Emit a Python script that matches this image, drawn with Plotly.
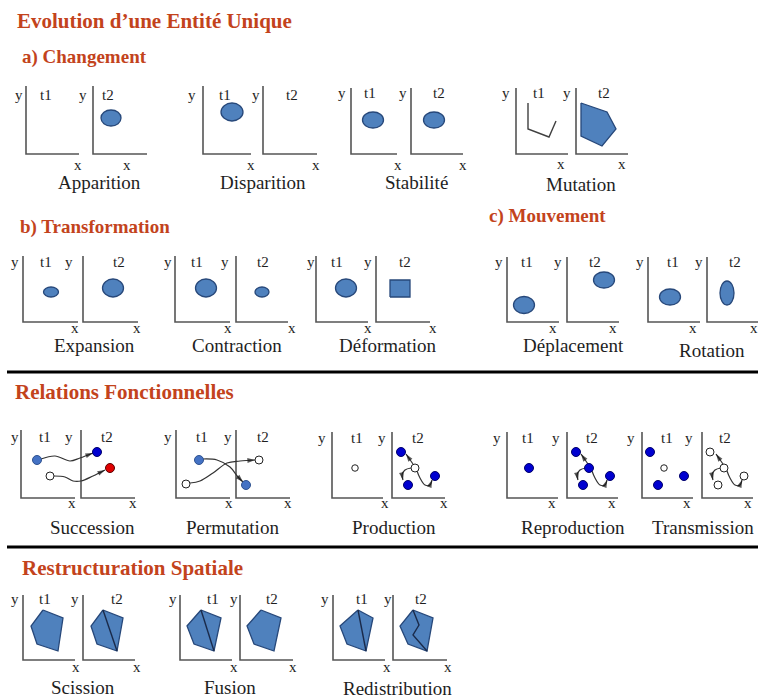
import plotly.graph_objects as go

FIG_W, FIG_H = 758, 699
SERIF = "Liberation Serif, Times New Roman, serif"
HEAD_COLOR = "#C3431C"
FILL = "#4F81BD"
EDGE = "#27487A"
AXIS_COLOR = "#555555"
TXT = "#1E1E1E"

# ---------------- headings ----------------
HEADINGS = ["Evolution d’une Entité Unique", "a) Changement", "b) Transformation",
            "c) Mouvement", "Relations Fonctionnelles", "Restructuration Spatiale"]
HEAD_X = [15, 20, 18, 487, 13, 20]
HEAD_Y = [21, 57, 227, 216, 392, 568]
HEAD_SIZE = [21, 19, 19, 19, 21, 21]
SEP_Y = [372, 547]

# ---------------- diagrams (pairs of t1 / t2 panels) ----------------
NAMES = ["Apparition", "Disparition", "Stabilité", "Mutation",
         "Expansion", "Contraction", "Déformation", "Déplacement", "Rotation",
         "Succession", "Permutation", "Production", "Reproduction", "Transmission",
         "Scission", "Fusion", "Redistribution"]
P1_X = [26, 203, 351, 516, 23, 175, 316, 507, 648, 21, 176, 332, 507, 642, 23, 180, 333]
P2_X = [93, 263, 411, 576, 83, 236, 376, 567, 707, 81, 236, 392, 567, 702, 83, 240, 393]
BASE_Y = [154, 154, 154, 154, 322, 322, 322, 322, 322, 498, 498, 498, 498, 498, 660, 660, 660]
TOP_Y = [86, 86, 88, 88, 256, 256, 256, 257, 257, 430, 430, 432, 432, 432, 595, 595, 595]
W1 = [53, 48, 46, 52, 55, 55, 52, 52, 52, 54, 54, 51, 51, 51, 52, 52, 52]
W2 = [54, 54, 52, 52, 55, 52, 54, 52, 52, 54, 54, 53, 51, 51, 52, 53, 54]

# text label positions (pixels)
Y1X = [19, 192, 342, 506, 15, 168, 311, 499, 640, 15, 168, 322, 497, 631, 15, 173, 325]
Y2X = [83, 256, 403, 567, 69, 225, 368, 558, 699, 69, 228, 382, 556, 689, 75, 234, 388]
T1X = [46, 225, 370, 539, 46, 197, 337, 527, 673, 45, 202, 357, 528, 667, 45, 213, 362]
T2X = [108, 292, 439, 604, 119, 263, 405, 595, 735, 107, 263, 418, 592, 725, 117, 272, 421]
LABEL_Y = [95, 95, 93, 93, 262, 262, 262, 262, 262, 437, 437, 438, 438, 438, 599, 599, 599]
XL1 = [78, 251, 398, 561, 75, 228, 368, 553, 693, 72, 229, 385, 552, 687, 76, 234, 387]
XL2 = [127, 316, 463, 622, 137, 292, 433, 613, 754, 133, 288, 444, 612, 748, 137, 293, 448]
XL_Y = [165, 165, 165, 164, 328, 328, 328, 328, 328, 503, 503, 503, 503, 503, 667, 667, 667]
CAP_X = [99, 263, 416, 581, 94, 237, 388, 573, 712, 92, 232, 394, 573, 703, 83, 230, 397]
CAP_Y = [183, 183, 182, 184, 345, 345, 345, 345, 350, 527, 527, 527, 527, 527, 687, 687, 688]

# ---------------- marks, in panel-local units (x right, y up from panel corner) ----------------
ELLIPSES = [  # diagram, panel, cx, cy, rx, ry
    ("Apparition", "t2", 18, 36, 10, 8),
    ("Disparition", "t1", 29, 42, 11, 9),
    ("Stabilité", "t1", 22, 34, 10.5, 8),
    ("Stabilité", "t2", 23, 34, 10.5, 8),
    ("Expansion", "t1", 28, 30, 7.5, 5),
    ("Expansion", "t2", 30, 34, 10.5, 9),
    ("Contraction", "t1", 31, 34, 10.5, 9),
    ("Contraction", "t2", 26, 30, 7, 5),
    ("Déformation", "t1", 30, 34, 10.5, 9),
    ("Déplacement", "t1", 17, 17, 10.5, 8.5),
    ("Déplacement", "t2", 37, 42, 10.5, 8),
    ("Rotation", "t1", 22, 25, 10.5, 8),
    ("Rotation", "t2", 20, 29, 7, 12),
]

POLYGONS = [  # diagram, panel, xs, ys
    ("Mutation", "t2", [5, 31, 40, 26, 5], [51, 42, 25, 8, 18]),
    ("Déformation", "t2", [14, 34, 34, 14], [25, 25, 42, 42]),
    ("Scission", "t1", [20, 40, 35, 14, 8], [50, 42, 9, 16, 34]),
    ("Scission", "t2", [20, 40, 34, 14, 8], [50, 42, 9, 16, 34]),
    ("Fusion", "t1", [21, 41, 34, 14, 7], [50, 42, 9, 16, 34]),
    ("Fusion", "t2", [21, 41, 34, 14, 7], [50, 42, 9, 16, 34]),
    ("Redistribution", "t1", [25, 40, 33, 14, 7], [50, 42, 9, 16, 34]),
    ("Redistribution", "t2", [20, 40, 34, 15, 7], [50, 42, 9, 16, 34]),
]

POLYLINES = [  # diagram, panel, xs, ys
    ("Mutation", "t1", [12, 12, 33, 40], [51, 25, 17, 33]),
    ("Scission", "t2", [20, 34], [50, 9]),
    ("Fusion", "t1", [21, 34], [50, 9]),
    ("Redistribution", "t1", [25, 33], [50, 9]),
    ("Redistribution", "t2", [20, 26, 20, 34], [50, 35, 25, 9]),
]

DOTS = [  # diagram, panel, x, y, kind
    ("Succession", "t1", 16, 38, "light"), ("Succession", "t1", 29, 22, "open"),
    ("Succession", "t2", 16, 46, "blue"), ("Succession", "t2", 29, 30, "red"),
    ("Permutation", "t1", 23, 38, "light"), ("Permutation", "t1", 10, 14, "open"),
    ("Permutation", "t2", 10, 13, "light"), ("Permutation", "t2", 23, 38, "open"),
    ("Production", "t1", 23, 30, "small"),
    ("Production", "t2", 23, 30, "open"), ("Production", "t2", 9, 46, "blue"),
    ("Production", "t2", 16, 13, "blue"), ("Production", "t2", 43, 22, "blue"),
    ("Reproduction", "t1", 22, 30, "blue"),
    ("Reproduction", "t2", 22, 30, "blue"), ("Reproduction", "t2", 9, 46, "blue"),
    ("Reproduction", "t2", 16, 13, "blue"), ("Reproduction", "t2", 43, 22, "blue"),
    ("Transmission", "t1", 8, 46, "blue"), ("Transmission", "t1", 22, 30, "small"),
    ("Transmission", "t1", 16, 13, "blue"), ("Transmission", "t1", 42, 22, "blue"),
    ("Transmission", "t2", 22, 30, "open"), ("Transmission", "t2", 8, 46, "open"),
    ("Transmission", "t2", 16, 13, "open"), ("Transmission", "t2", 42, 22, "open"),
]

ARROWS = [  # diagram, panel, xs, ys (curved, arrow head at last point)
    ("Succession", "t1", [20, 34, 49, 59, 72], [39, 42, 37, 40, 45]),
    ("Succession", "t1", [33, 44, 52, 60, 72, 84], [22, 21, 17, 17, 22, 28]),
    ("Permutation", "t1", [27, 41, 54, 62, 67], [39, 38, 31, 21, 16]),
    ("Permutation", "t1", [14, 24, 37, 51, 64, 79], [15, 17, 25, 35, 37, 38]),
]
FAN_DIAGRAMS = ["Production", "Reproduction", "Transmission"]
FAN_X = [[21, 14], [19, 13, 10, 11], [25, 28, 33, 38, 40]]
FAN_Y = [[34, 44], [30, 28, 23, 18], [27, 20, 13, 13, 18]]
for d in FAN_DIAGRAMS:
    for fx, fy in zip(FAN_X, FAN_Y):
        ARROWS.append((d, "t2", fx, fy))

DOT_STYLE = {
    "light": dict(size=9, color="#4472C4", line=dict(color="#2F528F", width=1)),
    "blue": dict(size=9, color="#0000D0", line=dict(color="#00006A", width=1)),
    "red": dict(size=9, color="#E00000", line=dict(color="#5A0000", width=1)),
    "open": dict(size=8, color="white", line=dict(color="#222222", width=1)),
    "small": dict(size=6.5, color="white", line=dict(color="#222222", width=1)),
}

# ---------------- build ----------------
IDX = {n: i for i, n in enumerate(NAMES)}
PAD = 5


def ax_suffix(i):
    return "" if i == 0 else str(i + 1)


def offset(name, panel):
    i = IDX[name]
    return 0 if panel == "t1" else P2_X[i] - P1_X[i]


def px2paper(x, y):
    return x / FIG_W, 1 - y / FIG_H


fig = go.Figure()
layout_axes = {}
shapes = []
annotations = []

for i, n in enumerate(NAMES):
    k = ax_suffix(i)
    h = BASE_Y[i] - TOP_Y[i]
    dx = P2_X[i] - P1_X[i]
    left_px = P1_X[i] - PAD
    right_px = min(FIG_W, P2_X[i] + W2[i] + PAD)
    top_px = TOP_Y[i] - PAD
    bot_px = BASE_Y[i] + PAD
    layout_axes["xaxis" + k] = dict(domain=[left_px / FIG_W, right_px / FIG_W],
                                    range=[left_px - P1_X[i], right_px - P1_X[i]],
                                    visible=False, fixedrange=True, anchor="y" + k)
    layout_axes["yaxis" + k] = dict(domain=[1 - bot_px / FIG_H, 1 - top_px / FIG_H],
                                    range=[BASE_Y[i] - bot_px, BASE_Y[i] - top_px],
                                    visible=False, fixedrange=True, anchor="x" + k)
    # L-shaped axes of both panels
    fig.add_trace(go.Scatter(
        x=[0, 0, W1[i], None, dx, dx, dx + W2[i]],
        y=[h, 0, 0, None, h, 0, 0],
        mode="lines", line=dict(color=AXIS_COLOR, width=1.6),
        xaxis="x" + k, yaxis="y" + k, hoverinfo="skip"))
    # texts
    for tx, tt in [(Y1X[i], "y"), (Y2X[i], "y"), (T1X[i], "t1"), (T2X[i], "t2")]:
        px, py = px2paper(tx, LABEL_Y[i])
        annotations.append(dict(x=px, y=py, xref="paper", yref="paper", text=tt,
                                showarrow=False, xanchor="center", yanchor="middle",
                                font=dict(family=SERIF, size=15, color=TXT)))
    for tx in [XL1[i], XL2[i]]:
        px, py = px2paper(tx, XL_Y[i])
        annotations.append(dict(x=px, y=py, xref="paper", yref="paper", text="x",
                                showarrow=False, xanchor="center", yanchor="middle",
                                font=dict(family=SERIF, size=15, color=TXT)))
    px, py = px2paper(CAP_X[i], CAP_Y[i])
    annotations.append(dict(x=px, y=py, xref="paper", yref="paper", text=n,
                            showarrow=False, xanchor="center", yanchor="middle",
                            font=dict(family=SERIF, size=19, color=TXT)))

for d, p, cx, cy, rx, ry in ELLIPSES:
    k = ax_suffix(IDX[d])
    o = offset(d, p)
    shapes.append(dict(type="circle", xref="x" + k, yref="y" + k,
                       x0=o + cx - rx, x1=o + cx + rx, y0=cy - ry, y1=cy + ry,
                       fillcolor=FILL, line=dict(color=EDGE, width=1.3)))

for d, p, xs, ys in POLYGONS:
    k = ax_suffix(IDX[d])
    o = offset(d, p)
    fig.add_trace(go.Scatter(x=[o + v for v in xs] + [o + xs[0]], y=ys + [ys[0]],
                             mode="lines", fill="toself", fillcolor=FILL,
                             line=dict(color=EDGE, width=1.3),
                             xaxis="x" + k, yaxis="y" + k, hoverinfo="skip"))

for d, p, xs, ys in POLYLINES:
    k = ax_suffix(IDX[d])
    o = offset(d, p)
    col = "#404040" if d == "Mutation" else "#1A2A4A"
    fig.add_trace(go.Scatter(x=[o + v for v in xs], y=ys, mode="lines",
                             line=dict(color=col, width=1.4),
                             xaxis="x" + k, yaxis="y" + k, hoverinfo="skip"))

for d, p, xs, ys in ARROWS:
    k = ax_suffix(IDX[d])
    o = offset(d, p)
    n = len(xs)
    fig.add_trace(go.Scatter(x=[o + v for v in xs], y=ys, mode="lines+markers",
                             line=dict(color="#333333", width=1.2, shape="spline"),
                             marker=dict(symbol="arrow", angleref="previous",
                                         size=[0] * (n - 1) + [8], color="#111111",
                                         line=dict(width=0)),
                             xaxis="x" + k, yaxis="y" + k, hoverinfo="skip"))

for d, p, x, y, kind in DOTS:
    k = ax_suffix(IDX[d])
    o = offset(d, p)
    fig.add_trace(go.Scatter(x=[o + x], y=[y], mode="markers",
                             marker=dict(symbol="circle", **DOT_STYLE[kind]),
                             xaxis="x" + k, yaxis="y" + k, hoverinfo="skip",
                             cliponaxis=False))

for t, hx, hy, hs in zip(HEADINGS, HEAD_X, HEAD_Y, HEAD_SIZE):
    px, py = px2paper(hx, hy)
    annotations.append(dict(x=px, y=py, xref="paper", yref="paper", text="<b>" + t + "</b>",
                            showarrow=False, xanchor="left", yanchor="middle",
                            font=dict(family=SERIF, size=hs, color=HEAD_COLOR)))

for sy in SEP_Y:
    yy = 1 - sy / FIG_H
    shapes.append(dict(type="line", xref="paper", yref="paper", x0=7 / FIG_W, x1=1,
                       y0=yy, y1=yy, line=dict(color="black", width=3)))

fig.update_layout(width=FIG_W, height=FIG_H, margin=dict(l=0, r=0, t=0, b=0),
                  paper_bgcolor="white", plot_bgcolor="white", showlegend=False,
                  hovermode=False, shapes=shapes, annotations=annotations,
                  **layout_axes)
fig.write_html("out.html", config={"displayModeBar": False},
               post_script="document.body.style.margin='0px';document.body.style.overflow='hidden';")
